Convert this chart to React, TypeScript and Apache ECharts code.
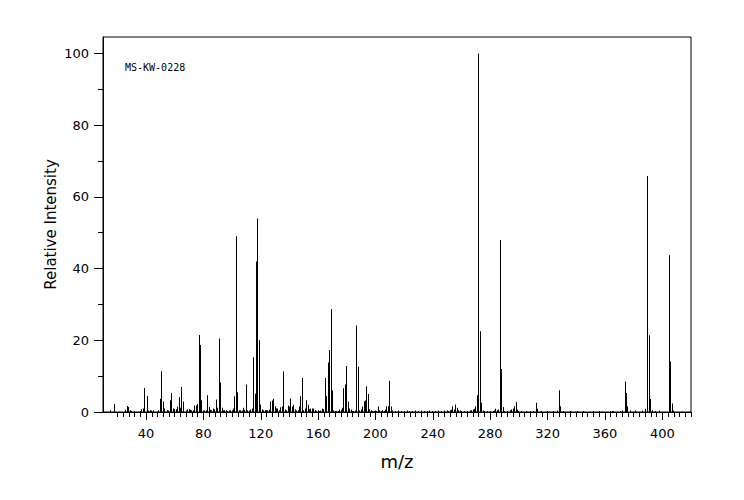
import React, { useEffect, useRef } from "react";
import * as echarts from "echarts";

// m/z 10-99
const mzA = [15, 18, 26, 27, 28, 29, 30, 32, 36, 37, 38, 39, 41, 42, 43, 44, 45, 49, 50, 51, 52, 53, 55, 56, 57, 58, 59, 60, 61, 62, 63, 64, 65, 66, 68, 69, 70, 71, 72, 73, 74, 75, 76, 77, 78, 79, 80, 81, 82, 83, 84, 85, 86, 87, 88, 89, 90, 91, 92, 93, 94, 95, 96, 97, 98, 99];
const intA = [0.5, 2.2, 0.6, 1.7, 1.4, 0.5, 0.3, 0.3, 0.3, 0.8, 1.0, 6.7, 4.5, 0.4, 0.5, 0.4, 0.5, 0.5, 3.7, 11.4, 2.9, 1.0, 0.5, 0.4, 3.3, 5.3, 1.0, 0.8, 0.8, 1.5, 4.2, 1.2, 7.0, 2.9, 0.4, 0.8, 0.8, 0.6, 0.5, 0.5, 1.8, 1.8, 2.2, 21.5, 18.7, 3.3, 0.4, 0.4, 0.5, 4.7, 1.4, 0.6, 0.5, 1.0, 0.8, 3.5, 1.2, 20.5, 8.2, 1.2, 0.5, 0.5, 0.5, 0.3, 0.4, 0.5];

// m/z 100-219
const mzB = [100, 101, 102, 103, 104, 105, 106, 107, 108, 109, 110, 111, 112, 113, 114, 115, 116, 117, 118, 119, 120, 121, 122, 123, 124, 125, 126, 127, 128, 129, 130, 131, 132, 133, 134, 135, 136, 137, 138, 139, 140, 141, 142, 143, 144, 145, 146, 147, 148, 149, 150, 151, 152, 153, 154, 155, 156, 157, 158, 159, 160, 161, 162, 163, 164, 165, 166, 167, 168, 169, 170, 171, 172, 173, 174, 175, 176, 177, 178, 179, 180, 181, 182, 183, 184, 185, 186, 187, 188, 189, 190, 191, 192, 193, 194, 195, 196, 197, 198, 199, 200, 201, 202, 203, 204, 205, 206, 207, 208, 209, 210, 211, 212, 214, 216, 218];
const intB = [0.5, 1.0, 4.4, 49, 5.5, 0.5, 0.5, 0.4, 1.2, 0.6, 7.7, 0.5, 0.4, 0.7, 1.0, 15.3, 5.1, 42, 54, 20, 2.1, 0.8, 0.5, 0.5, 0.5, 0.5, 0.6, 2.9, 3.2, 3.7, 1.6, 1.0, 1.0, 0.5, 1.3, 1.5, 11.3, 0.7, 0.4, 1.8, 1.5, 3.8, 1.5, 2.0, 0.8, 0.4, 0.5, 1.5, 4.4, 9.5, 0.5, 1.0, 3.3, 2.0, 0.8, 1.0, 1.0, 1.0, 0.5, 0.3, 0.5, 0.3, 0.4, 1.0, 0.8, 9.5, 4.4, 13.8, 17.3, 28.7, 6.0, 0.4, 0.3, 0.3, 0.3, 0.7, 0.6, 1.2, 6.6, 7.7, 12.8, 2.9, 1.0, 0.7, 0.3, 0.3, 0.4, 24.1, 12.6, 0.4, 0.7, 1.5, 3.0, 3.2, 7.2, 5.0, 0.8, 0.5, 0.3, 0.3, 0.4, 0.3, 1.5, 0.5, 0.3, 0.5, 0.3, 0.7, 1.6, 1.6, 8.7, 1.5, 0.4, 0.3, 0.4, 0.3];

// m/z 220-420
const mzC = [220, 222, 224, 226, 228, 230, 232, 234, 236, 238, 240, 242, 244, 246, 248, 250, 251, 252, 253, 254, 255, 256, 257, 258, 259, 260, 262, 264, 266, 267, 268, 269, 270, 271, 272, 273, 274, 275, 276, 278, 280, 282, 283, 284, 285, 286, 287, 288, 289, 290, 292, 294, 295, 296, 297, 298, 299, 300, 302, 305, 308, 310, 312, 313, 316, 320, 324, 327, 328, 329, 331, 336, 341, 345, 352, 356, 364, 365, 366, 371, 372, 374, 375, 376, 378, 381, 386, 388, 390, 391, 392, 393, 395, 398, 405, 406, 407, 408];
const intC = [0.3, 0.4, 0.3, 0.3, 0.4, 0.3, 0.4, 0.3, 0.3, 0.4, 0.3, 0.3, 0.4, 0.3, 0.4, 0.5, 0.3, 0.5, 0.6, 1.6, 0.7, 2.1, 1.2, 0.5, 0.4, 0.3, 0.3, 0.3, 0.4, 0.5, 0.7, 0.9, 1.6, 4.7, 100, 22.5, 2.6, 0.4, 0.3, 0.3, 0.3, 0.3, 0.5, 0.9, 0.5, 0.7, 48, 12, 1.4, 0.3, 0.3, 0.5, 0.7, 1.0, 1.6, 2.8, 0.7, 0.3, 0.3, 0.3, 0.3, 0.3, 2.6, 0.9, 0.3, 0.3, 0.3, 0.4, 6.1, 1.6, 0.3, 0.3, 0.3, 0.3, 0.3, 0.3, 0.3, 0.3, 0.3, 0.3, 0.4, 8.5, 5.3, 1.6, 0.4, 0.4, 0.4, 0.9, 65.8, 21.4, 3.6, 0.5, 0.3, 0.4, 43.7, 14.1, 2.4, 0.4];

const xMajorTicks = [40, 80, 120, 160, 200, 240, 280, 320, 360, 400];
const xMinorTicks = Array.from({ length: 101 }, (_, i) => 20 + i * 4);
const yMajorTicks = [0, 20, 40, 60, 80, 100];
const yMinorTicks = [10, 30, 50, 70, 90];

const sampleId = "MS-KW-0228";

export default function App() {
  const ref = useRef<HTMLDivElement>(null);
  useEffect(() => {
    if (!ref.current) return;
    const chart = echarts.init(ref.current, null, { renderer: "svg" });
    const mz = [...mzA, ...mzB, ...mzC];
    const ints = [...intA, ...intB, ...intC];
    const data = mz.map((m, i) => [m, ints[i]]);
    const labelFont = { fontFamily: "DejaVu Sans", fontSize: 13, color: "#000" };
    chart.setOption({
      animation: false,
      backgroundColor: "#fff",
      grid: {
        left: 103,
        top: 37,
        width: 588,
        height: 375,
        show: true,
        borderColor: "#000",
        borderWidth: 1,
      },
      xAxis: [
        {
          type: "value",
          min: 10,
          max: 420,
          name: "m/z",
          nameLocation: "middle",
          nameGap: 40,
          nameMoveOverlap: false,
          nameTextStyle: { fontFamily: "DejaVu Sans", fontSize: 18, color: "#000" },
          axisLine: { show: true, lineStyle: { color: "#000", width: 1 } },
          axisTick: { show: true, length: 8, customValues: xMajorTicks, lineStyle: { color: "#000" } },
          axisLabel: { show: true, margin: 15, customValues: xMajorTicks, ...labelFont },
          splitLine: { show: false },
        },
        {
          type: "value",
          min: 10,
          max: 420,
          position: "bottom",
          axisLine: { show: false },
          axisTick: { show: true, length: 5, customValues: xMinorTicks, lineStyle: { color: "#000" } },
          axisLabel: { show: false },
          splitLine: { show: false },
        },
      ],
      yAxis: [
        {
          type: "value",
          min: 0,
          max: 104.6,
          name: "Relative Intensity",
          nameLocation: "middle",
          nameGap: 45,
          nameMoveOverlap: false,
          nameTextStyle: { fontFamily: "DejaVu Sans", fontSize: 15, color: "#000" },
          axisLine: { show: true, lineStyle: { color: "#000", width: 1 } },
          axisTick: { show: true, length: 9, customValues: yMajorTicks, lineStyle: { color: "#000" } },
          axisLabel: { show: true, margin: 14, customValues: yMajorTicks, ...labelFont },
          splitLine: { show: false },
        },
        {
          type: "value",
          min: 0,
          max: 104.6,
          position: "left",
          axisLine: { show: false },
          axisTick: { show: true, length: 5, customValues: yMinorTicks, lineStyle: { color: "#000" } },
          axisLabel: { show: false },
          splitLine: { show: false },
        },
      ],
      graphic: [
        {
          type: "text",
          left: 125,
          top: 62,
          style: {
            text: sampleId,
            font: "10px 'DejaVu Sans Mono'",
            fill: "#000",
          },
        },
      ],
      series: [
        {
          type: "custom",
          xAxisIndex: 0,
          yAxisIndex: 0,
          data,
          renderItem: (params: any, api: any) => {
            const m = api.value(0);
            const v = api.value(1);
            const top = api.coord([m, v]);
            const base = api.coord([m, 0]);
            return {
              type: "rect",
              shape: { x: Math.floor(top[0]), y: top[1], width: 1, height: base[1] - top[1] },
              style: { fill: "#000" },
            };
          },
        },
      ],
    });
    return () => chart.dispose();
  }, []);
  return (
    <div
      ref={ref}
      style={{ position: "absolute", left: 0, top: 0, width: 744, height: 500 }}
    />
  );
}
